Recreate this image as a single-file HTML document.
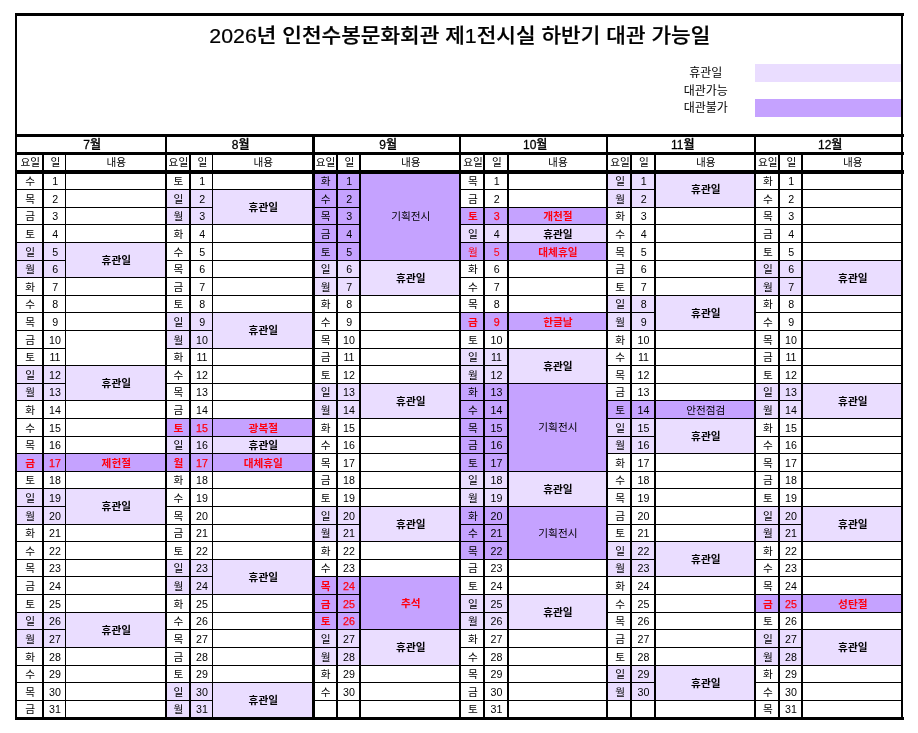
<!DOCTYPE html>
<html lang="ko"><head><meta charset="utf-8"><title>2026년 인천수봉문화회관 제1전시실 하반기 대관 가능일</title>
<style>
html,body{margin:0;padding:0;background:#fff;}
body{width:918px;height:733px;overflow:hidden;position:relative;font-family:"Liberation Sans","Noto Sans CJK KR",sans-serif;color:#000;}
.r{position:absolute;}
.t{position:absolute;display:flex;align-items:center;justify-content:center;white-space:nowrap;font-size:10.667px;line-height:1;}
.title{font-size:21.333px;font-weight:500;-webkit-text-stroke:0.25px #000;transform:scaleY(0.94);transform-origin:50% 72%;}
.mon{font-size:12px;font-weight:500;-webkit-text-stroke:0.3px #000;}
.hd{}
.leg{font-size:12px;}
.d{}
.dr{font-weight:700;color:#FF0010;}
.rr{color:#FF0010;}
.nr{color:#FF0010;-webkit-text-stroke:0.25px #FF0010;}
.cb{font-weight:700;}
.cr{font-weight:700;color:#FF0010;}
.cn{}
</style></head>
<body>
<div class="r" style="left:755px;top:64px;width:146px;height:18px;background:#EADDFF"></div>
<div class="r" style="left:755px;top:99px;width:146px;height:18px;background:#C5A2FF"></div>
<div class="r" style="left:66px;top:243px;width:99px;height:34px;background:#EADDFF"></div>
<div class="r" style="left:66px;top:366px;width:99px;height:34px;background:#EADDFF"></div>
<div class="r" style="left:66px;top:454px;width:99px;height:17px;background:#C5A2FF"></div>
<div class="r" style="left:66px;top:489px;width:99px;height:35px;background:#EADDFF"></div>
<div class="r" style="left:66px;top:613px;width:99px;height:34px;background:#EADDFF"></div>
<div class="r" style="left:17px;top:243px;width:25px;height:17px;background:#EADDFF"></div>
<div class="r" style="left:44px;top:243px;width:21px;height:17px;background:#EADDFF"></div>
<div class="r" style="left:17px;top:261px;width:25px;height:16px;background:#EADDFF"></div>
<div class="r" style="left:44px;top:261px;width:21px;height:16px;background:#EADDFF"></div>
<div class="r" style="left:17px;top:366px;width:25px;height:17px;background:#EADDFF"></div>
<div class="r" style="left:44px;top:366px;width:21px;height:17px;background:#EADDFF"></div>
<div class="r" style="left:17px;top:384px;width:25px;height:16px;background:#EADDFF"></div>
<div class="r" style="left:44px;top:384px;width:21px;height:16px;background:#EADDFF"></div>
<div class="r" style="left:17px;top:454px;width:25px;height:17px;background:#C5A2FF"></div>
<div class="r" style="left:44px;top:454px;width:21px;height:17px;background:#C5A2FF"></div>
<div class="r" style="left:17px;top:489px;width:25px;height:17px;background:#EADDFF"></div>
<div class="r" style="left:44px;top:489px;width:21px;height:17px;background:#EADDFF"></div>
<div class="r" style="left:17px;top:507px;width:25px;height:17px;background:#EADDFF"></div>
<div class="r" style="left:44px;top:507px;width:21px;height:17px;background:#EADDFF"></div>
<div class="r" style="left:17px;top:613px;width:25px;height:16px;background:#EADDFF"></div>
<div class="r" style="left:44px;top:613px;width:21px;height:16px;background:#EADDFF"></div>
<div class="r" style="left:17px;top:630px;width:25px;height:17px;background:#EADDFF"></div>
<div class="r" style="left:44px;top:630px;width:21px;height:17px;background:#EADDFF"></div>
<div class="r" style="left:213px;top:190px;width:99px;height:34px;background:#EADDFF"></div>
<div class="r" style="left:213px;top:313px;width:99px;height:35px;background:#EADDFF"></div>
<div class="r" style="left:213px;top:419px;width:99px;height:17px;background:#C5A2FF"></div>
<div class="r" style="left:213px;top:437px;width:99px;height:16px;background:#EADDFF"></div>
<div class="r" style="left:213px;top:454px;width:99px;height:17px;background:#C5A2FF"></div>
<div class="r" style="left:213px;top:560px;width:99px;height:34px;background:#EADDFF"></div>
<div class="r" style="left:213px;top:683px;width:99px;height:34px;background:#EADDFF"></div>
<div class="r" style="left:167px;top:190px;width:22px;height:17px;background:#EADDFF"></div>
<div class="r" style="left:191px;top:190px;width:21px;height:17px;background:#EADDFF"></div>
<div class="r" style="left:167px;top:208px;width:22px;height:16px;background:#EADDFF"></div>
<div class="r" style="left:191px;top:208px;width:21px;height:16px;background:#EADDFF"></div>
<div class="r" style="left:167px;top:313px;width:22px;height:17px;background:#EADDFF"></div>
<div class="r" style="left:191px;top:313px;width:21px;height:17px;background:#EADDFF"></div>
<div class="r" style="left:167px;top:331px;width:22px;height:17px;background:#EADDFF"></div>
<div class="r" style="left:191px;top:331px;width:21px;height:17px;background:#EADDFF"></div>
<div class="r" style="left:167px;top:419px;width:22px;height:17px;background:#C5A2FF"></div>
<div class="r" style="left:191px;top:419px;width:21px;height:17px;background:#C5A2FF"></div>
<div class="r" style="left:167px;top:437px;width:22px;height:16px;background:#EADDFF"></div>
<div class="r" style="left:191px;top:437px;width:21px;height:16px;background:#EADDFF"></div>
<div class="r" style="left:167px;top:454px;width:22px;height:17px;background:#C5A2FF"></div>
<div class="r" style="left:191px;top:454px;width:21px;height:17px;background:#C5A2FF"></div>
<div class="r" style="left:167px;top:560px;width:22px;height:16px;background:#EADDFF"></div>
<div class="r" style="left:191px;top:560px;width:21px;height:16px;background:#EADDFF"></div>
<div class="r" style="left:167px;top:577px;width:22px;height:17px;background:#EADDFF"></div>
<div class="r" style="left:191px;top:577px;width:21px;height:17px;background:#EADDFF"></div>
<div class="r" style="left:167px;top:683px;width:22px;height:17px;background:#EADDFF"></div>
<div class="r" style="left:191px;top:683px;width:21px;height:17px;background:#EADDFF"></div>
<div class="r" style="left:167px;top:701px;width:22px;height:16px;background:#EADDFF"></div>
<div class="r" style="left:191px;top:701px;width:21px;height:16px;background:#EADDFF"></div>
<div class="r" style="left:361px;top:174px;width:98px;height:86px;background:#C5A2FF"></div>
<div class="r" style="left:361px;top:261px;width:98px;height:34px;background:#EADDFF"></div>
<div class="r" style="left:361px;top:384px;width:98px;height:34px;background:#EADDFF"></div>
<div class="r" style="left:361px;top:507px;width:98px;height:34px;background:#EADDFF"></div>
<div class="r" style="left:361px;top:577px;width:98px;height:52px;background:#C5A2FF"></div>
<div class="r" style="left:361px;top:630px;width:98px;height:35px;background:#EADDFF"></div>
<div class="r" style="left:315px;top:174px;width:21px;height:15px;background:#C5A2FF"></div>
<div class="r" style="left:338px;top:174px;width:21px;height:15px;background:#C5A2FF"></div>
<div class="r" style="left:315px;top:190px;width:21px;height:17px;background:#C5A2FF"></div>
<div class="r" style="left:338px;top:190px;width:21px;height:17px;background:#C5A2FF"></div>
<div class="r" style="left:315px;top:208px;width:21px;height:16px;background:#C5A2FF"></div>
<div class="r" style="left:338px;top:208px;width:21px;height:16px;background:#C5A2FF"></div>
<div class="r" style="left:315px;top:225px;width:21px;height:17px;background:#C5A2FF"></div>
<div class="r" style="left:338px;top:225px;width:21px;height:17px;background:#C5A2FF"></div>
<div class="r" style="left:315px;top:243px;width:21px;height:17px;background:#C5A2FF"></div>
<div class="r" style="left:338px;top:243px;width:21px;height:17px;background:#C5A2FF"></div>
<div class="r" style="left:315px;top:261px;width:21px;height:16px;background:#EADDFF"></div>
<div class="r" style="left:338px;top:261px;width:21px;height:16px;background:#EADDFF"></div>
<div class="r" style="left:315px;top:278px;width:21px;height:17px;background:#EADDFF"></div>
<div class="r" style="left:338px;top:278px;width:21px;height:17px;background:#EADDFF"></div>
<div class="r" style="left:315px;top:384px;width:21px;height:16px;background:#EADDFF"></div>
<div class="r" style="left:338px;top:384px;width:21px;height:16px;background:#EADDFF"></div>
<div class="r" style="left:315px;top:401px;width:21px;height:17px;background:#EADDFF"></div>
<div class="r" style="left:338px;top:401px;width:21px;height:17px;background:#EADDFF"></div>
<div class="r" style="left:315px;top:507px;width:21px;height:17px;background:#EADDFF"></div>
<div class="r" style="left:338px;top:507px;width:21px;height:17px;background:#EADDFF"></div>
<div class="r" style="left:315px;top:525px;width:21px;height:16px;background:#EADDFF"></div>
<div class="r" style="left:338px;top:525px;width:21px;height:16px;background:#EADDFF"></div>
<div class="r" style="left:315px;top:577px;width:21px;height:17px;background:#C5A2FF"></div>
<div class="r" style="left:338px;top:577px;width:21px;height:17px;background:#C5A2FF"></div>
<div class="r" style="left:315px;top:595px;width:21px;height:17px;background:#C5A2FF"></div>
<div class="r" style="left:338px;top:595px;width:21px;height:17px;background:#C5A2FF"></div>
<div class="r" style="left:315px;top:613px;width:21px;height:16px;background:#C5A2FF"></div>
<div class="r" style="left:338px;top:613px;width:21px;height:16px;background:#C5A2FF"></div>
<div class="r" style="left:315px;top:630px;width:21px;height:17px;background:#EADDFF"></div>
<div class="r" style="left:338px;top:630px;width:21px;height:17px;background:#EADDFF"></div>
<div class="r" style="left:315px;top:648px;width:21px;height:17px;background:#EADDFF"></div>
<div class="r" style="left:338px;top:648px;width:21px;height:17px;background:#EADDFF"></div>
<div class="r" style="left:509px;top:208px;width:97px;height:16px;background:#C5A2FF"></div>
<div class="r" style="left:509px;top:225px;width:97px;height:17px;background:#EADDFF"></div>
<div class="r" style="left:509px;top:243px;width:97px;height:17px;background:#C5A2FF"></div>
<div class="r" style="left:509px;top:313px;width:97px;height:17px;background:#C5A2FF"></div>
<div class="r" style="left:509px;top:349px;width:97px;height:34px;background:#EADDFF"></div>
<div class="r" style="left:509px;top:384px;width:97px;height:87px;background:#C5A2FF"></div>
<div class="r" style="left:509px;top:472px;width:97px;height:34px;background:#EADDFF"></div>
<div class="r" style="left:509px;top:507px;width:97px;height:52px;background:#C5A2FF"></div>
<div class="r" style="left:509px;top:595px;width:97px;height:34px;background:#EADDFF"></div>
<div class="r" style="left:461px;top:208px;width:22px;height:16px;background:#C5A2FF"></div>
<div class="r" style="left:485px;top:208px;width:22px;height:16px;background:#C5A2FF"></div>
<div class="r" style="left:461px;top:225px;width:22px;height:17px;background:#EADDFF"></div>
<div class="r" style="left:485px;top:225px;width:22px;height:17px;background:#EADDFF"></div>
<div class="r" style="left:461px;top:243px;width:22px;height:17px;background:#C5A2FF"></div>
<div class="r" style="left:485px;top:243px;width:22px;height:17px;background:#C5A2FF"></div>
<div class="r" style="left:461px;top:313px;width:22px;height:17px;background:#C5A2FF"></div>
<div class="r" style="left:485px;top:313px;width:22px;height:17px;background:#C5A2FF"></div>
<div class="r" style="left:461px;top:349px;width:22px;height:16px;background:#EADDFF"></div>
<div class="r" style="left:485px;top:349px;width:22px;height:16px;background:#EADDFF"></div>
<div class="r" style="left:461px;top:366px;width:22px;height:17px;background:#EADDFF"></div>
<div class="r" style="left:485px;top:366px;width:22px;height:17px;background:#EADDFF"></div>
<div class="r" style="left:461px;top:384px;width:22px;height:16px;background:#C5A2FF"></div>
<div class="r" style="left:485px;top:384px;width:22px;height:16px;background:#C5A2FF"></div>
<div class="r" style="left:461px;top:401px;width:22px;height:17px;background:#C5A2FF"></div>
<div class="r" style="left:485px;top:401px;width:22px;height:17px;background:#C5A2FF"></div>
<div class="r" style="left:461px;top:419px;width:22px;height:17px;background:#C5A2FF"></div>
<div class="r" style="left:485px;top:419px;width:22px;height:17px;background:#C5A2FF"></div>
<div class="r" style="left:461px;top:437px;width:22px;height:16px;background:#C5A2FF"></div>
<div class="r" style="left:485px;top:437px;width:22px;height:16px;background:#C5A2FF"></div>
<div class="r" style="left:461px;top:454px;width:22px;height:17px;background:#C5A2FF"></div>
<div class="r" style="left:485px;top:454px;width:22px;height:17px;background:#C5A2FF"></div>
<div class="r" style="left:461px;top:472px;width:22px;height:16px;background:#EADDFF"></div>
<div class="r" style="left:485px;top:472px;width:22px;height:16px;background:#EADDFF"></div>
<div class="r" style="left:461px;top:489px;width:22px;height:17px;background:#EADDFF"></div>
<div class="r" style="left:485px;top:489px;width:22px;height:17px;background:#EADDFF"></div>
<div class="r" style="left:461px;top:507px;width:22px;height:17px;background:#C5A2FF"></div>
<div class="r" style="left:485px;top:507px;width:22px;height:17px;background:#C5A2FF"></div>
<div class="r" style="left:461px;top:525px;width:22px;height:16px;background:#C5A2FF"></div>
<div class="r" style="left:485px;top:525px;width:22px;height:16px;background:#C5A2FF"></div>
<div class="r" style="left:461px;top:542px;width:22px;height:17px;background:#C5A2FF"></div>
<div class="r" style="left:485px;top:542px;width:22px;height:17px;background:#C5A2FF"></div>
<div class="r" style="left:461px;top:595px;width:22px;height:17px;background:#EADDFF"></div>
<div class="r" style="left:485px;top:595px;width:22px;height:17px;background:#EADDFF"></div>
<div class="r" style="left:461px;top:613px;width:22px;height:16px;background:#EADDFF"></div>
<div class="r" style="left:485px;top:613px;width:22px;height:16px;background:#EADDFF"></div>
<div class="r" style="left:656px;top:174px;width:98px;height:33px;background:#EADDFF"></div>
<div class="r" style="left:656px;top:296px;width:98px;height:34px;background:#EADDFF"></div>
<div class="r" style="left:656px;top:401px;width:98px;height:17px;background:#C5A2FF"></div>
<div class="r" style="left:656px;top:419px;width:98px;height:34px;background:#EADDFF"></div>
<div class="r" style="left:656px;top:542px;width:98px;height:34px;background:#EADDFF"></div>
<div class="r" style="left:656px;top:666px;width:98px;height:34px;background:#EADDFF"></div>
<div class="r" style="left:608px;top:174px;width:22px;height:15px;background:#EADDFF"></div>
<div class="r" style="left:632px;top:174px;width:22px;height:15px;background:#EADDFF"></div>
<div class="r" style="left:608px;top:190px;width:22px;height:17px;background:#EADDFF"></div>
<div class="r" style="left:632px;top:190px;width:22px;height:17px;background:#EADDFF"></div>
<div class="r" style="left:608px;top:296px;width:22px;height:16px;background:#EADDFF"></div>
<div class="r" style="left:632px;top:296px;width:22px;height:16px;background:#EADDFF"></div>
<div class="r" style="left:608px;top:313px;width:22px;height:17px;background:#EADDFF"></div>
<div class="r" style="left:632px;top:313px;width:22px;height:17px;background:#EADDFF"></div>
<div class="r" style="left:608px;top:401px;width:22px;height:17px;background:#C5A2FF"></div>
<div class="r" style="left:632px;top:401px;width:22px;height:17px;background:#C5A2FF"></div>
<div class="r" style="left:608px;top:419px;width:22px;height:17px;background:#EADDFF"></div>
<div class="r" style="left:632px;top:419px;width:22px;height:17px;background:#EADDFF"></div>
<div class="r" style="left:608px;top:437px;width:22px;height:16px;background:#EADDFF"></div>
<div class="r" style="left:632px;top:437px;width:22px;height:16px;background:#EADDFF"></div>
<div class="r" style="left:608px;top:542px;width:22px;height:17px;background:#EADDFF"></div>
<div class="r" style="left:632px;top:542px;width:22px;height:17px;background:#EADDFF"></div>
<div class="r" style="left:608px;top:560px;width:22px;height:16px;background:#EADDFF"></div>
<div class="r" style="left:632px;top:560px;width:22px;height:16px;background:#EADDFF"></div>
<div class="r" style="left:608px;top:666px;width:22px;height:16px;background:#EADDFF"></div>
<div class="r" style="left:632px;top:666px;width:22px;height:16px;background:#EADDFF"></div>
<div class="r" style="left:608px;top:683px;width:22px;height:17px;background:#EADDFF"></div>
<div class="r" style="left:632px;top:683px;width:22px;height:17px;background:#EADDFF"></div>
<div class="r" style="left:803px;top:261px;width:98px;height:34px;background:#EADDFF"></div>
<div class="r" style="left:803px;top:384px;width:98px;height:34px;background:#EADDFF"></div>
<div class="r" style="left:803px;top:507px;width:98px;height:34px;background:#EADDFF"></div>
<div class="r" style="left:803px;top:595px;width:98px;height:17px;background:#C5A2FF"></div>
<div class="r" style="left:803px;top:630px;width:98px;height:35px;background:#EADDFF"></div>
<div class="r" style="left:756px;top:261px;width:22px;height:16px;background:#EADDFF"></div>
<div class="r" style="left:780px;top:261px;width:21px;height:16px;background:#EADDFF"></div>
<div class="r" style="left:756px;top:278px;width:22px;height:17px;background:#EADDFF"></div>
<div class="r" style="left:780px;top:278px;width:21px;height:17px;background:#EADDFF"></div>
<div class="r" style="left:756px;top:384px;width:22px;height:16px;background:#EADDFF"></div>
<div class="r" style="left:780px;top:384px;width:21px;height:16px;background:#EADDFF"></div>
<div class="r" style="left:756px;top:401px;width:22px;height:17px;background:#EADDFF"></div>
<div class="r" style="left:780px;top:401px;width:21px;height:17px;background:#EADDFF"></div>
<div class="r" style="left:756px;top:507px;width:22px;height:17px;background:#EADDFF"></div>
<div class="r" style="left:780px;top:507px;width:21px;height:17px;background:#EADDFF"></div>
<div class="r" style="left:756px;top:525px;width:22px;height:16px;background:#EADDFF"></div>
<div class="r" style="left:780px;top:525px;width:21px;height:16px;background:#EADDFF"></div>
<div class="r" style="left:756px;top:595px;width:22px;height:17px;background:#C5A2FF"></div>
<div class="r" style="left:780px;top:595px;width:21px;height:17px;background:#C5A2FF"></div>
<div class="r" style="left:756px;top:630px;width:22px;height:17px;background:#EADDFF"></div>
<div class="r" style="left:780px;top:630px;width:21px;height:17px;background:#EADDFF"></div>
<div class="r" style="left:756px;top:648px;width:22px;height:17px;background:#EADDFF"></div>
<div class="r" style="left:780px;top:648px;width:21px;height:17px;background:#EADDFF"></div>
<div class="r" style="left:15px;top:13px;width:889px;height:3px;background:#000"></div>
<div class="r" style="left:15px;top:134px;width:889px;height:3px;background:#000"></div>
<div class="r" style="left:15px;top:152px;width:889px;height:3px;background:#000"></div>
<div class="r" style="left:15px;top:170px;width:889px;height:4px;background:#000"></div>
<div class="r" style="left:15px;top:717px;width:889px;height:3px;background:#000"></div>
<div class="r" style="left:15px;top:13px;width:2px;height:707px;background:#000"></div>
<div class="r" style="left:901px;top:13px;width:2px;height:707px;background:#000"></div>
<div class="r" style="left:42px;top:155px;width:2px;height:564px;background:#000"></div>
<div class="r" style="left:65px;top:155px;width:1px;height:564px;background:#000"></div>
<div class="r" style="left:17px;top:189px;width:148px;height:1px;background:#000"></div>
<div class="r" style="left:17px;top:207px;width:148px;height:1px;background:#000"></div>
<div class="r" style="left:17px;top:224px;width:148px;height:1px;background:#000"></div>
<div class="r" style="left:17px;top:242px;width:148px;height:1px;background:#000"></div>
<div class="r" style="left:17px;top:260px;width:48px;height:1px;background:#000"></div>
<div class="r" style="left:17px;top:277px;width:148px;height:1px;background:#000"></div>
<div class="r" style="left:17px;top:295px;width:148px;height:1px;background:#000"></div>
<div class="r" style="left:17px;top:312px;width:148px;height:1px;background:#000"></div>
<div class="r" style="left:17px;top:330px;width:148px;height:1px;background:#000"></div>
<div class="r" style="left:17px;top:348px;width:48px;height:1px;background:#000"></div>
<div class="r" style="left:17px;top:365px;width:148px;height:1px;background:#000"></div>
<div class="r" style="left:17px;top:383px;width:48px;height:1px;background:#000"></div>
<div class="r" style="left:17px;top:400px;width:148px;height:1px;background:#000"></div>
<div class="r" style="left:17px;top:418px;width:148px;height:1px;background:#000"></div>
<div class="r" style="left:17px;top:436px;width:148px;height:1px;background:#000"></div>
<div class="r" style="left:17px;top:453px;width:148px;height:1px;background:#000"></div>
<div class="r" style="left:17px;top:471px;width:148px;height:1px;background:#000"></div>
<div class="r" style="left:17px;top:488px;width:148px;height:1px;background:#000"></div>
<div class="r" style="left:17px;top:506px;width:48px;height:1px;background:#000"></div>
<div class="r" style="left:17px;top:524px;width:148px;height:1px;background:#000"></div>
<div class="r" style="left:17px;top:541px;width:148px;height:1px;background:#000"></div>
<div class="r" style="left:17px;top:559px;width:148px;height:1px;background:#000"></div>
<div class="r" style="left:17px;top:576px;width:148px;height:1px;background:#000"></div>
<div class="r" style="left:17px;top:594px;width:148px;height:1px;background:#000"></div>
<div class="r" style="left:17px;top:612px;width:148px;height:1px;background:#000"></div>
<div class="r" style="left:17px;top:629px;width:48px;height:1px;background:#000"></div>
<div class="r" style="left:17px;top:647px;width:148px;height:1px;background:#000"></div>
<div class="r" style="left:17px;top:665px;width:148px;height:1px;background:#000"></div>
<div class="r" style="left:17px;top:682px;width:148px;height:1px;background:#000"></div>
<div class="r" style="left:17px;top:700px;width:148px;height:1px;background:#000"></div>
<div class="r" style="left:165px;top:134px;width:2px;height:585px;background:#000"></div>
<div class="r" style="left:189px;top:155px;width:2px;height:564px;background:#000"></div>
<div class="r" style="left:212px;top:155px;width:1px;height:564px;background:#000"></div>
<div class="r" style="left:167px;top:189px;width:145px;height:1px;background:#000"></div>
<div class="r" style="left:167px;top:207px;width:45px;height:1px;background:#000"></div>
<div class="r" style="left:167px;top:224px;width:145px;height:1px;background:#000"></div>
<div class="r" style="left:167px;top:242px;width:145px;height:1px;background:#000"></div>
<div class="r" style="left:167px;top:260px;width:145px;height:1px;background:#000"></div>
<div class="r" style="left:167px;top:277px;width:145px;height:1px;background:#000"></div>
<div class="r" style="left:167px;top:295px;width:145px;height:1px;background:#000"></div>
<div class="r" style="left:167px;top:312px;width:145px;height:1px;background:#000"></div>
<div class="r" style="left:167px;top:330px;width:45px;height:1px;background:#000"></div>
<div class="r" style="left:167px;top:348px;width:145px;height:1px;background:#000"></div>
<div class="r" style="left:167px;top:365px;width:145px;height:1px;background:#000"></div>
<div class="r" style="left:167px;top:383px;width:145px;height:1px;background:#000"></div>
<div class="r" style="left:167px;top:400px;width:145px;height:1px;background:#000"></div>
<div class="r" style="left:167px;top:418px;width:145px;height:1px;background:#000"></div>
<div class="r" style="left:167px;top:436px;width:145px;height:1px;background:#000"></div>
<div class="r" style="left:167px;top:453px;width:145px;height:1px;background:#000"></div>
<div class="r" style="left:167px;top:471px;width:145px;height:1px;background:#000"></div>
<div class="r" style="left:167px;top:488px;width:145px;height:1px;background:#000"></div>
<div class="r" style="left:167px;top:506px;width:145px;height:1px;background:#000"></div>
<div class="r" style="left:167px;top:524px;width:145px;height:1px;background:#000"></div>
<div class="r" style="left:167px;top:541px;width:145px;height:1px;background:#000"></div>
<div class="r" style="left:167px;top:559px;width:145px;height:1px;background:#000"></div>
<div class="r" style="left:167px;top:576px;width:45px;height:1px;background:#000"></div>
<div class="r" style="left:167px;top:594px;width:145px;height:1px;background:#000"></div>
<div class="r" style="left:167px;top:612px;width:145px;height:1px;background:#000"></div>
<div class="r" style="left:167px;top:629px;width:145px;height:1px;background:#000"></div>
<div class="r" style="left:167px;top:647px;width:145px;height:1px;background:#000"></div>
<div class="r" style="left:167px;top:665px;width:145px;height:1px;background:#000"></div>
<div class="r" style="left:167px;top:682px;width:145px;height:1px;background:#000"></div>
<div class="r" style="left:167px;top:700px;width:45px;height:1px;background:#000"></div>
<div class="r" style="left:312px;top:134px;width:3px;height:585px;background:#000"></div>
<div class="r" style="left:336px;top:155px;width:2px;height:564px;background:#000"></div>
<div class="r" style="left:359px;top:155px;width:2px;height:564px;background:#000"></div>
<div class="r" style="left:315px;top:189px;width:44px;height:1px;background:#000"></div>
<div class="r" style="left:315px;top:207px;width:44px;height:1px;background:#000"></div>
<div class="r" style="left:315px;top:224px;width:44px;height:1px;background:#000"></div>
<div class="r" style="left:315px;top:242px;width:44px;height:1px;background:#000"></div>
<div class="r" style="left:315px;top:260px;width:144px;height:1px;background:#000"></div>
<div class="r" style="left:315px;top:277px;width:44px;height:1px;background:#000"></div>
<div class="r" style="left:315px;top:295px;width:144px;height:1px;background:#000"></div>
<div class="r" style="left:315px;top:312px;width:144px;height:1px;background:#000"></div>
<div class="r" style="left:315px;top:330px;width:144px;height:1px;background:#000"></div>
<div class="r" style="left:315px;top:348px;width:144px;height:1px;background:#000"></div>
<div class="r" style="left:315px;top:365px;width:144px;height:1px;background:#000"></div>
<div class="r" style="left:315px;top:383px;width:144px;height:1px;background:#000"></div>
<div class="r" style="left:315px;top:400px;width:44px;height:1px;background:#000"></div>
<div class="r" style="left:315px;top:418px;width:144px;height:1px;background:#000"></div>
<div class="r" style="left:315px;top:436px;width:144px;height:1px;background:#000"></div>
<div class="r" style="left:315px;top:453px;width:144px;height:1px;background:#000"></div>
<div class="r" style="left:315px;top:471px;width:144px;height:1px;background:#000"></div>
<div class="r" style="left:315px;top:488px;width:144px;height:1px;background:#000"></div>
<div class="r" style="left:315px;top:506px;width:144px;height:1px;background:#000"></div>
<div class="r" style="left:315px;top:524px;width:44px;height:1px;background:#000"></div>
<div class="r" style="left:315px;top:541px;width:144px;height:1px;background:#000"></div>
<div class="r" style="left:315px;top:559px;width:144px;height:1px;background:#000"></div>
<div class="r" style="left:315px;top:576px;width:144px;height:1px;background:#000"></div>
<div class="r" style="left:315px;top:594px;width:44px;height:1px;background:#000"></div>
<div class="r" style="left:315px;top:612px;width:44px;height:1px;background:#000"></div>
<div class="r" style="left:315px;top:629px;width:144px;height:1px;background:#000"></div>
<div class="r" style="left:315px;top:647px;width:44px;height:1px;background:#000"></div>
<div class="r" style="left:315px;top:665px;width:144px;height:1px;background:#000"></div>
<div class="r" style="left:315px;top:682px;width:144px;height:1px;background:#000"></div>
<div class="r" style="left:315px;top:700px;width:144px;height:1px;background:#000"></div>
<div class="r" style="left:459px;top:134px;width:2px;height:585px;background:#000"></div>
<div class="r" style="left:483px;top:155px;width:2px;height:564px;background:#000"></div>
<div class="r" style="left:507px;top:155px;width:2px;height:564px;background:#000"></div>
<div class="r" style="left:461px;top:189px;width:145px;height:1px;background:#000"></div>
<div class="r" style="left:461px;top:207px;width:145px;height:1px;background:#000"></div>
<div class="r" style="left:461px;top:224px;width:145px;height:1px;background:#000"></div>
<div class="r" style="left:461px;top:242px;width:145px;height:1px;background:#000"></div>
<div class="r" style="left:461px;top:260px;width:145px;height:1px;background:#000"></div>
<div class="r" style="left:461px;top:277px;width:145px;height:1px;background:#000"></div>
<div class="r" style="left:461px;top:295px;width:145px;height:1px;background:#000"></div>
<div class="r" style="left:461px;top:312px;width:145px;height:1px;background:#000"></div>
<div class="r" style="left:461px;top:330px;width:145px;height:1px;background:#000"></div>
<div class="r" style="left:461px;top:348px;width:145px;height:1px;background:#000"></div>
<div class="r" style="left:461px;top:365px;width:46px;height:1px;background:#000"></div>
<div class="r" style="left:461px;top:383px;width:145px;height:1px;background:#000"></div>
<div class="r" style="left:461px;top:400px;width:46px;height:1px;background:#000"></div>
<div class="r" style="left:461px;top:418px;width:46px;height:1px;background:#000"></div>
<div class="r" style="left:461px;top:436px;width:46px;height:1px;background:#000"></div>
<div class="r" style="left:461px;top:453px;width:46px;height:1px;background:#000"></div>
<div class="r" style="left:461px;top:471px;width:145px;height:1px;background:#000"></div>
<div class="r" style="left:461px;top:488px;width:46px;height:1px;background:#000"></div>
<div class="r" style="left:461px;top:506px;width:145px;height:1px;background:#000"></div>
<div class="r" style="left:461px;top:524px;width:46px;height:1px;background:#000"></div>
<div class="r" style="left:461px;top:541px;width:46px;height:1px;background:#000"></div>
<div class="r" style="left:461px;top:559px;width:145px;height:1px;background:#000"></div>
<div class="r" style="left:461px;top:576px;width:145px;height:1px;background:#000"></div>
<div class="r" style="left:461px;top:594px;width:145px;height:1px;background:#000"></div>
<div class="r" style="left:461px;top:612px;width:46px;height:1px;background:#000"></div>
<div class="r" style="left:461px;top:629px;width:145px;height:1px;background:#000"></div>
<div class="r" style="left:461px;top:647px;width:145px;height:1px;background:#000"></div>
<div class="r" style="left:461px;top:665px;width:145px;height:1px;background:#000"></div>
<div class="r" style="left:461px;top:682px;width:145px;height:1px;background:#000"></div>
<div class="r" style="left:461px;top:700px;width:145px;height:1px;background:#000"></div>
<div class="r" style="left:606px;top:134px;width:2px;height:585px;background:#000"></div>
<div class="r" style="left:630px;top:155px;width:2px;height:564px;background:#000"></div>
<div class="r" style="left:654px;top:155px;width:2px;height:564px;background:#000"></div>
<div class="r" style="left:608px;top:189px;width:46px;height:1px;background:#000"></div>
<div class="r" style="left:608px;top:207px;width:146px;height:1px;background:#000"></div>
<div class="r" style="left:608px;top:224px;width:146px;height:1px;background:#000"></div>
<div class="r" style="left:608px;top:242px;width:146px;height:1px;background:#000"></div>
<div class="r" style="left:608px;top:260px;width:146px;height:1px;background:#000"></div>
<div class="r" style="left:608px;top:277px;width:146px;height:1px;background:#000"></div>
<div class="r" style="left:608px;top:295px;width:146px;height:1px;background:#000"></div>
<div class="r" style="left:608px;top:312px;width:46px;height:1px;background:#000"></div>
<div class="r" style="left:608px;top:330px;width:146px;height:1px;background:#000"></div>
<div class="r" style="left:608px;top:348px;width:146px;height:1px;background:#000"></div>
<div class="r" style="left:608px;top:365px;width:146px;height:1px;background:#000"></div>
<div class="r" style="left:608px;top:383px;width:146px;height:1px;background:#000"></div>
<div class="r" style="left:608px;top:400px;width:146px;height:1px;background:#000"></div>
<div class="r" style="left:608px;top:418px;width:146px;height:1px;background:#000"></div>
<div class="r" style="left:608px;top:436px;width:46px;height:1px;background:#000"></div>
<div class="r" style="left:608px;top:453px;width:146px;height:1px;background:#000"></div>
<div class="r" style="left:608px;top:471px;width:146px;height:1px;background:#000"></div>
<div class="r" style="left:608px;top:488px;width:146px;height:1px;background:#000"></div>
<div class="r" style="left:608px;top:506px;width:146px;height:1px;background:#000"></div>
<div class="r" style="left:608px;top:524px;width:146px;height:1px;background:#000"></div>
<div class="r" style="left:608px;top:541px;width:146px;height:1px;background:#000"></div>
<div class="r" style="left:608px;top:559px;width:46px;height:1px;background:#000"></div>
<div class="r" style="left:608px;top:576px;width:146px;height:1px;background:#000"></div>
<div class="r" style="left:608px;top:594px;width:146px;height:1px;background:#000"></div>
<div class="r" style="left:608px;top:612px;width:146px;height:1px;background:#000"></div>
<div class="r" style="left:608px;top:629px;width:146px;height:1px;background:#000"></div>
<div class="r" style="left:608px;top:647px;width:146px;height:1px;background:#000"></div>
<div class="r" style="left:608px;top:665px;width:146px;height:1px;background:#000"></div>
<div class="r" style="left:608px;top:682px;width:46px;height:1px;background:#000"></div>
<div class="r" style="left:608px;top:700px;width:146px;height:1px;background:#000"></div>
<div class="r" style="left:754px;top:134px;width:2px;height:585px;background:#000"></div>
<div class="r" style="left:778px;top:155px;width:2px;height:564px;background:#000"></div>
<div class="r" style="left:801px;top:155px;width:2px;height:564px;background:#000"></div>
<div class="r" style="left:756px;top:189px;width:145px;height:1px;background:#000"></div>
<div class="r" style="left:756px;top:207px;width:145px;height:1px;background:#000"></div>
<div class="r" style="left:756px;top:224px;width:145px;height:1px;background:#000"></div>
<div class="r" style="left:756px;top:242px;width:145px;height:1px;background:#000"></div>
<div class="r" style="left:756px;top:260px;width:145px;height:1px;background:#000"></div>
<div class="r" style="left:756px;top:277px;width:45px;height:1px;background:#000"></div>
<div class="r" style="left:756px;top:295px;width:145px;height:1px;background:#000"></div>
<div class="r" style="left:756px;top:312px;width:145px;height:1px;background:#000"></div>
<div class="r" style="left:756px;top:330px;width:145px;height:1px;background:#000"></div>
<div class="r" style="left:756px;top:348px;width:145px;height:1px;background:#000"></div>
<div class="r" style="left:756px;top:365px;width:145px;height:1px;background:#000"></div>
<div class="r" style="left:756px;top:383px;width:145px;height:1px;background:#000"></div>
<div class="r" style="left:756px;top:400px;width:45px;height:1px;background:#000"></div>
<div class="r" style="left:756px;top:418px;width:145px;height:1px;background:#000"></div>
<div class="r" style="left:756px;top:436px;width:145px;height:1px;background:#000"></div>
<div class="r" style="left:756px;top:453px;width:145px;height:1px;background:#000"></div>
<div class="r" style="left:756px;top:471px;width:145px;height:1px;background:#000"></div>
<div class="r" style="left:756px;top:488px;width:145px;height:1px;background:#000"></div>
<div class="r" style="left:756px;top:506px;width:145px;height:1px;background:#000"></div>
<div class="r" style="left:756px;top:524px;width:45px;height:1px;background:#000"></div>
<div class="r" style="left:756px;top:541px;width:145px;height:1px;background:#000"></div>
<div class="r" style="left:756px;top:559px;width:145px;height:1px;background:#000"></div>
<div class="r" style="left:756px;top:576px;width:145px;height:1px;background:#000"></div>
<div class="r" style="left:756px;top:594px;width:145px;height:1px;background:#000"></div>
<div class="r" style="left:756px;top:612px;width:145px;height:1px;background:#000"></div>
<div class="r" style="left:756px;top:629px;width:145px;height:1px;background:#000"></div>
<div class="r" style="left:756px;top:647px;width:45px;height:1px;background:#000"></div>
<div class="r" style="left:756px;top:665px;width:145px;height:1px;background:#000"></div>
<div class="r" style="left:756px;top:682px;width:145px;height:1px;background:#000"></div>
<div class="r" style="left:756px;top:700px;width:145px;height:1px;background:#000"></div>
<div class="t title" style="left:15.3px;top:17px;width:889px;height:40px">2026년 인천수봉문화회관 제1전시실 하반기 대관 가능일</div>
<div class="t leg" style="left:656.8px;top:64px;width:98px;height:18px">휴관일</div>
<div class="t leg" style="left:656.8px;top:82px;width:98px;height:17px">대관가능</div>
<div class="t leg" style="left:656.8px;top:99px;width:98px;height:18px">대관불가</div>
<div class="t mon" style="left:18.2px;top:137px;width:148px;height:15px">7월</div>
<div class="t hd" style="left:17.7px;top:155px;width:25px;height:15px">요일</div>
<div class="t hd" style="left:44.8px;top:155px;width:21px;height:15px">일</div>
<div class="t hd" style="left:66.8px;top:155px;width:99px;height:15px">내용</div>
<div class="t cb" style="left:66.8px;top:243px;width:99px;height:34px">휴관일</div>
<div class="t cb" style="left:66.8px;top:366px;width:99px;height:34px">휴관일</div>
<div class="t cr" style="left:66.8px;top:455px;width:99px;height:16px">제헌절</div>
<div class="t cb" style="left:66.8px;top:489px;width:99px;height:35px">휴관일</div>
<div class="t cb" style="left:66.8px;top:613px;width:99px;height:34px">휴관일</div>
<div class="t d" style="left:17.7px;top:173px;width:25px;height:16px">수</div>
<div class="t d" style="left:44.8px;top:173px;width:21px;height:16px">1</div>
<div class="t d" style="left:17.7px;top:191px;width:25px;height:16px">목</div>
<div class="t d" style="left:44.8px;top:191px;width:21px;height:16px">2</div>
<div class="t d" style="left:17.7px;top:208px;width:25px;height:16px">금</div>
<div class="t d" style="left:44.8px;top:208px;width:21px;height:16px">3</div>
<div class="t d" style="left:17.7px;top:226px;width:25px;height:16px">토</div>
<div class="t d" style="left:44.8px;top:226px;width:21px;height:16px">4</div>
<div class="t d" style="left:17.7px;top:244px;width:25px;height:16px">일</div>
<div class="t d" style="left:44.8px;top:244px;width:21px;height:16px">5</div>
<div class="t d" style="left:17.7px;top:261px;width:25px;height:16px">월</div>
<div class="t d" style="left:44.8px;top:261px;width:21px;height:16px">6</div>
<div class="t d" style="left:17.7px;top:279px;width:25px;height:16px">화</div>
<div class="t d" style="left:44.8px;top:279px;width:21px;height:16px">7</div>
<div class="t d" style="left:17.7px;top:296px;width:25px;height:16px">수</div>
<div class="t d" style="left:44.8px;top:296px;width:21px;height:16px">8</div>
<div class="t d" style="left:17.7px;top:314px;width:25px;height:16px">목</div>
<div class="t d" style="left:44.8px;top:314px;width:21px;height:16px">9</div>
<div class="t d" style="left:17.7px;top:332px;width:25px;height:16px">금</div>
<div class="t d" style="left:44.5px;top:332px;width:21px;height:16px">10</div>
<div class="t d" style="left:17.7px;top:349px;width:25px;height:16px">토</div>
<div class="t d" style="left:44.5px;top:349px;width:21px;height:16px">11</div>
<div class="t d" style="left:17.7px;top:367px;width:25px;height:16px">일</div>
<div class="t d" style="left:44.5px;top:367px;width:21px;height:16px">12</div>
<div class="t d" style="left:17.7px;top:384px;width:25px;height:16px">월</div>
<div class="t d" style="left:44.5px;top:384px;width:21px;height:16px">13</div>
<div class="t d" style="left:17.7px;top:402px;width:25px;height:16px">화</div>
<div class="t d" style="left:44.5px;top:402px;width:21px;height:16px">14</div>
<div class="t d" style="left:17.7px;top:420px;width:25px;height:16px">수</div>
<div class="t d" style="left:44.5px;top:420px;width:21px;height:16px">15</div>
<div class="t d" style="left:17.7px;top:437px;width:25px;height:16px">목</div>
<div class="t d" style="left:44.5px;top:437px;width:21px;height:16px">16</div>
<div class="t dr" style="left:17.7px;top:455px;width:25px;height:16px">금</div>
<div class="t nr" style="left:44.5px;top:455px;width:21px;height:16px">17</div>
<div class="t d" style="left:17.7px;top:472px;width:25px;height:16px">토</div>
<div class="t d" style="left:44.5px;top:472px;width:21px;height:16px">18</div>
<div class="t d" style="left:17.7px;top:490px;width:25px;height:16px">일</div>
<div class="t d" style="left:44.5px;top:490px;width:21px;height:16px">19</div>
<div class="t d" style="left:17.7px;top:508px;width:25px;height:16px">월</div>
<div class="t d" style="left:44.5px;top:508px;width:21px;height:16px">20</div>
<div class="t d" style="left:17.7px;top:525px;width:25px;height:16px">화</div>
<div class="t d" style="left:44.5px;top:525px;width:21px;height:16px">21</div>
<div class="t d" style="left:17.7px;top:543px;width:25px;height:16px">수</div>
<div class="t d" style="left:44.5px;top:543px;width:21px;height:16px">22</div>
<div class="t d" style="left:17.7px;top:560px;width:25px;height:16px">목</div>
<div class="t d" style="left:44.5px;top:560px;width:21px;height:16px">23</div>
<div class="t d" style="left:17.7px;top:578px;width:25px;height:16px">금</div>
<div class="t d" style="left:44.5px;top:578px;width:21px;height:16px">24</div>
<div class="t d" style="left:17.7px;top:596px;width:25px;height:16px">토</div>
<div class="t d" style="left:44.5px;top:596px;width:21px;height:16px">25</div>
<div class="t d" style="left:17.7px;top:613px;width:25px;height:16px">일</div>
<div class="t d" style="left:44.5px;top:613px;width:21px;height:16px">26</div>
<div class="t d" style="left:17.7px;top:631px;width:25px;height:16px">월</div>
<div class="t d" style="left:44.5px;top:631px;width:21px;height:16px">27</div>
<div class="t d" style="left:17.7px;top:649px;width:25px;height:16px">화</div>
<div class="t d" style="left:44.5px;top:649px;width:21px;height:16px">28</div>
<div class="t d" style="left:17.7px;top:666px;width:25px;height:16px">수</div>
<div class="t d" style="left:44.5px;top:666px;width:21px;height:16px">29</div>
<div class="t d" style="left:17.7px;top:684px;width:25px;height:16px">목</div>
<div class="t d" style="left:44.5px;top:684px;width:21px;height:16px">30</div>
<div class="t d" style="left:17.7px;top:701px;width:25px;height:16px">금</div>
<div class="t d" style="left:44.5px;top:701px;width:21px;height:16px">31</div>
<div class="t mon" style="left:168.2px;top:137px;width:145px;height:15px">8월</div>
<div class="t hd" style="left:167.4px;top:155px;width:22px;height:15px">요일</div>
<div class="t hd" style="left:191.8px;top:155px;width:21px;height:15px">일</div>
<div class="t hd" style="left:213.8px;top:155px;width:99px;height:15px">내용</div>
<div class="t cb" style="left:213.8px;top:190px;width:99px;height:34px">휴관일</div>
<div class="t cb" style="left:213.8px;top:313px;width:99px;height:35px">휴관일</div>
<div class="t cr" style="left:213.8px;top:420px;width:99px;height:16px">광복절</div>
<div class="t cb" style="left:213.8px;top:437px;width:99px;height:16px">휴관일</div>
<div class="t cr" style="left:213.8px;top:455px;width:99px;height:16px">대체휴일</div>
<div class="t cb" style="left:213.8px;top:560px;width:99px;height:34px">휴관일</div>
<div class="t cb" style="left:213.8px;top:683px;width:99px;height:34px">휴관일</div>
<div class="t d" style="left:167.4px;top:173px;width:22px;height:16px">토</div>
<div class="t d" style="left:191.8px;top:173px;width:21px;height:16px">1</div>
<div class="t d" style="left:167.4px;top:191px;width:22px;height:16px">일</div>
<div class="t d" style="left:191.8px;top:191px;width:21px;height:16px">2</div>
<div class="t d" style="left:167.4px;top:208px;width:22px;height:16px">월</div>
<div class="t d" style="left:191.8px;top:208px;width:21px;height:16px">3</div>
<div class="t d" style="left:167.4px;top:226px;width:22px;height:16px">화</div>
<div class="t d" style="left:191.8px;top:226px;width:21px;height:16px">4</div>
<div class="t d" style="left:167.4px;top:244px;width:22px;height:16px">수</div>
<div class="t d" style="left:191.8px;top:244px;width:21px;height:16px">5</div>
<div class="t d" style="left:167.4px;top:261px;width:22px;height:16px">목</div>
<div class="t d" style="left:191.8px;top:261px;width:21px;height:16px">6</div>
<div class="t d" style="left:167.4px;top:279px;width:22px;height:16px">금</div>
<div class="t d" style="left:191.8px;top:279px;width:21px;height:16px">7</div>
<div class="t d" style="left:167.4px;top:296px;width:22px;height:16px">토</div>
<div class="t d" style="left:191.8px;top:296px;width:21px;height:16px">8</div>
<div class="t d" style="left:167.4px;top:314px;width:22px;height:16px">일</div>
<div class="t d" style="left:191.8px;top:314px;width:21px;height:16px">9</div>
<div class="t d" style="left:167.4px;top:332px;width:22px;height:16px">월</div>
<div class="t d" style="left:191.5px;top:332px;width:21px;height:16px">10</div>
<div class="t d" style="left:167.4px;top:349px;width:22px;height:16px">화</div>
<div class="t d" style="left:191.5px;top:349px;width:21px;height:16px">11</div>
<div class="t d" style="left:167.4px;top:367px;width:22px;height:16px">수</div>
<div class="t d" style="left:191.5px;top:367px;width:21px;height:16px">12</div>
<div class="t d" style="left:167.4px;top:384px;width:22px;height:16px">목</div>
<div class="t d" style="left:191.5px;top:384px;width:21px;height:16px">13</div>
<div class="t d" style="left:167.4px;top:402px;width:22px;height:16px">금</div>
<div class="t d" style="left:191.5px;top:402px;width:21px;height:16px">14</div>
<div class="t dr" style="left:167.4px;top:420px;width:22px;height:16px">토</div>
<div class="t nr" style="left:191.5px;top:420px;width:21px;height:16px">15</div>
<div class="t d" style="left:167.4px;top:437px;width:22px;height:16px">일</div>
<div class="t d" style="left:191.5px;top:437px;width:21px;height:16px">16</div>
<div class="t dr" style="left:167.4px;top:455px;width:22px;height:16px">월</div>
<div class="t nr" style="left:191.5px;top:455px;width:21px;height:16px">17</div>
<div class="t d" style="left:167.4px;top:472px;width:22px;height:16px">화</div>
<div class="t d" style="left:191.5px;top:472px;width:21px;height:16px">18</div>
<div class="t d" style="left:167.4px;top:490px;width:22px;height:16px">수</div>
<div class="t d" style="left:191.5px;top:490px;width:21px;height:16px">19</div>
<div class="t d" style="left:167.4px;top:508px;width:22px;height:16px">목</div>
<div class="t d" style="left:191.5px;top:508px;width:21px;height:16px">20</div>
<div class="t d" style="left:167.4px;top:525px;width:22px;height:16px">금</div>
<div class="t d" style="left:191.5px;top:525px;width:21px;height:16px">21</div>
<div class="t d" style="left:167.4px;top:543px;width:22px;height:16px">토</div>
<div class="t d" style="left:191.5px;top:543px;width:21px;height:16px">22</div>
<div class="t d" style="left:167.4px;top:560px;width:22px;height:16px">일</div>
<div class="t d" style="left:191.5px;top:560px;width:21px;height:16px">23</div>
<div class="t d" style="left:167.4px;top:578px;width:22px;height:16px">월</div>
<div class="t d" style="left:191.5px;top:578px;width:21px;height:16px">24</div>
<div class="t d" style="left:167.4px;top:596px;width:22px;height:16px">화</div>
<div class="t d" style="left:191.5px;top:596px;width:21px;height:16px">25</div>
<div class="t d" style="left:167.4px;top:613px;width:22px;height:16px">수</div>
<div class="t d" style="left:191.5px;top:613px;width:21px;height:16px">26</div>
<div class="t d" style="left:167.4px;top:631px;width:22px;height:16px">목</div>
<div class="t d" style="left:191.5px;top:631px;width:21px;height:16px">27</div>
<div class="t d" style="left:167.4px;top:649px;width:22px;height:16px">금</div>
<div class="t d" style="left:191.5px;top:649px;width:21px;height:16px">28</div>
<div class="t d" style="left:167.4px;top:666px;width:22px;height:16px">토</div>
<div class="t d" style="left:191.5px;top:666px;width:21px;height:16px">29</div>
<div class="t d" style="left:167.4px;top:684px;width:22px;height:16px">일</div>
<div class="t d" style="left:191.5px;top:684px;width:21px;height:16px">30</div>
<div class="t d" style="left:167.4px;top:701px;width:22px;height:16px">월</div>
<div class="t d" style="left:191.5px;top:701px;width:21px;height:16px">31</div>
<div class="t mon" style="left:316.2px;top:137px;width:144px;height:15px">9월</div>
<div class="t hd" style="left:315.1px;top:155px;width:21px;height:15px">요일</div>
<div class="t hd" style="left:338.8px;top:155px;width:21px;height:15px">일</div>
<div class="t hd" style="left:361.8px;top:155px;width:98px;height:15px">내용</div>
<div class="t cn" style="left:361.8px;top:172px;width:98px;height:88px">기획전시</div>
<div class="t cb" style="left:361.8px;top:261px;width:98px;height:34px">휴관일</div>
<div class="t cb" style="left:361.8px;top:384px;width:98px;height:34px">휴관일</div>
<div class="t cb" style="left:361.8px;top:507px;width:98px;height:34px">휴관일</div>
<div class="t cr" style="left:361.8px;top:577px;width:98px;height:52px">추석</div>
<div class="t cb" style="left:361.8px;top:630px;width:98px;height:35px">휴관일</div>
<div class="t d" style="left:315.1px;top:173px;width:21px;height:16px">화</div>
<div class="t d" style="left:338.8px;top:173px;width:21px;height:16px">1</div>
<div class="t d" style="left:315.1px;top:191px;width:21px;height:16px">수</div>
<div class="t d" style="left:338.8px;top:191px;width:21px;height:16px">2</div>
<div class="t d" style="left:315.1px;top:208px;width:21px;height:16px">목</div>
<div class="t d" style="left:338.8px;top:208px;width:21px;height:16px">3</div>
<div class="t d" style="left:315.1px;top:226px;width:21px;height:16px">금</div>
<div class="t d" style="left:338.8px;top:226px;width:21px;height:16px">4</div>
<div class="t d" style="left:315.1px;top:244px;width:21px;height:16px">토</div>
<div class="t d" style="left:338.8px;top:244px;width:21px;height:16px">5</div>
<div class="t d" style="left:315.1px;top:261px;width:21px;height:16px">일</div>
<div class="t d" style="left:338.8px;top:261px;width:21px;height:16px">6</div>
<div class="t d" style="left:315.1px;top:279px;width:21px;height:16px">월</div>
<div class="t d" style="left:338.8px;top:279px;width:21px;height:16px">7</div>
<div class="t d" style="left:315.1px;top:296px;width:21px;height:16px">화</div>
<div class="t d" style="left:338.8px;top:296px;width:21px;height:16px">8</div>
<div class="t d" style="left:315.1px;top:314px;width:21px;height:16px">수</div>
<div class="t d" style="left:338.8px;top:314px;width:21px;height:16px">9</div>
<div class="t d" style="left:315.1px;top:332px;width:21px;height:16px">목</div>
<div class="t d" style="left:338.5px;top:332px;width:21px;height:16px">10</div>
<div class="t d" style="left:315.1px;top:349px;width:21px;height:16px">금</div>
<div class="t d" style="left:338.5px;top:349px;width:21px;height:16px">11</div>
<div class="t d" style="left:315.1px;top:367px;width:21px;height:16px">토</div>
<div class="t d" style="left:338.5px;top:367px;width:21px;height:16px">12</div>
<div class="t d" style="left:315.1px;top:384px;width:21px;height:16px">일</div>
<div class="t d" style="left:338.5px;top:384px;width:21px;height:16px">13</div>
<div class="t d" style="left:315.1px;top:402px;width:21px;height:16px">월</div>
<div class="t d" style="left:338.5px;top:402px;width:21px;height:16px">14</div>
<div class="t d" style="left:315.1px;top:420px;width:21px;height:16px">화</div>
<div class="t d" style="left:338.5px;top:420px;width:21px;height:16px">15</div>
<div class="t d" style="left:315.1px;top:437px;width:21px;height:16px">수</div>
<div class="t d" style="left:338.5px;top:437px;width:21px;height:16px">16</div>
<div class="t d" style="left:315.1px;top:455px;width:21px;height:16px">목</div>
<div class="t d" style="left:338.5px;top:455px;width:21px;height:16px">17</div>
<div class="t d" style="left:315.1px;top:472px;width:21px;height:16px">금</div>
<div class="t d" style="left:338.5px;top:472px;width:21px;height:16px">18</div>
<div class="t d" style="left:315.1px;top:490px;width:21px;height:16px">토</div>
<div class="t d" style="left:338.5px;top:490px;width:21px;height:16px">19</div>
<div class="t d" style="left:315.1px;top:508px;width:21px;height:16px">일</div>
<div class="t d" style="left:338.5px;top:508px;width:21px;height:16px">20</div>
<div class="t d" style="left:315.1px;top:525px;width:21px;height:16px">월</div>
<div class="t d" style="left:338.5px;top:525px;width:21px;height:16px">21</div>
<div class="t d" style="left:315.1px;top:543px;width:21px;height:16px">화</div>
<div class="t d" style="left:338.5px;top:543px;width:21px;height:16px">22</div>
<div class="t d" style="left:315.1px;top:560px;width:21px;height:16px">수</div>
<div class="t d" style="left:338.5px;top:560px;width:21px;height:16px">23</div>
<div class="t dr" style="left:315.1px;top:578px;width:21px;height:16px">목</div>
<div class="t nr" style="left:338.5px;top:578px;width:21px;height:16px">24</div>
<div class="t dr" style="left:315.1px;top:596px;width:21px;height:16px">금</div>
<div class="t nr" style="left:338.5px;top:596px;width:21px;height:16px">25</div>
<div class="t dr" style="left:315.1px;top:613px;width:21px;height:16px">토</div>
<div class="t nr" style="left:338.5px;top:613px;width:21px;height:16px">26</div>
<div class="t d" style="left:315.1px;top:631px;width:21px;height:16px">일</div>
<div class="t d" style="left:338.5px;top:631px;width:21px;height:16px">27</div>
<div class="t d" style="left:315.1px;top:649px;width:21px;height:16px">월</div>
<div class="t d" style="left:338.5px;top:649px;width:21px;height:16px">28</div>
<div class="t d" style="left:315.1px;top:666px;width:21px;height:16px">화</div>
<div class="t d" style="left:338.5px;top:666px;width:21px;height:16px">29</div>
<div class="t d" style="left:315.1px;top:684px;width:21px;height:16px">수</div>
<div class="t d" style="left:338.5px;top:684px;width:21px;height:16px">30</div>
<div class="t mon" style="left:462.7px;top:137px;width:145px;height:15px">10월</div>
<div class="t hd" style="left:462px;top:155px;width:22px;height:15px">요일</div>
<div class="t hd" style="left:485.8px;top:155px;width:22px;height:15px">일</div>
<div class="t hd" style="left:509.4px;top:155px;width:97px;height:15px">내용</div>
<div class="t cr" style="left:509.4px;top:208px;width:97px;height:16px">개천절</div>
<div class="t cb" style="left:509.4px;top:226px;width:97px;height:16px">휴관일</div>
<div class="t cr" style="left:509.4px;top:244px;width:97px;height:16px">대체휴일</div>
<div class="t cr" style="left:509.4px;top:314px;width:97px;height:16px">한글날</div>
<div class="t cb" style="left:509.4px;top:349px;width:97px;height:34px">휴관일</div>
<div class="t cn" style="left:509.4px;top:384px;width:97px;height:87px">기획전시</div>
<div class="t cb" style="left:509.4px;top:472px;width:97px;height:34px">휴관일</div>
<div class="t cn" style="left:509.4px;top:507px;width:97px;height:52px">기획전시</div>
<div class="t cb" style="left:509.4px;top:595px;width:97px;height:34px">휴관일</div>
<div class="t d" style="left:462px;top:173px;width:22px;height:16px">목</div>
<div class="t d" style="left:485.8px;top:173px;width:22px;height:16px">1</div>
<div class="t d" style="left:462px;top:191px;width:22px;height:16px">금</div>
<div class="t d" style="left:485.8px;top:191px;width:22px;height:16px">2</div>
<div class="t dr" style="left:462px;top:208px;width:22px;height:16px">토</div>
<div class="t nr" style="left:485.8px;top:208px;width:22px;height:16px">3</div>
<div class="t d" style="left:462px;top:226px;width:22px;height:16px">일</div>
<div class="t d" style="left:485.8px;top:226px;width:22px;height:16px">4</div>
<div class="t rr" style="left:462px;top:244px;width:22px;height:16px">월</div>
<div class="t rr" style="left:485.8px;top:244px;width:22px;height:16px">5</div>
<div class="t d" style="left:462px;top:261px;width:22px;height:16px">화</div>
<div class="t d" style="left:485.8px;top:261px;width:22px;height:16px">6</div>
<div class="t d" style="left:462px;top:279px;width:22px;height:16px">수</div>
<div class="t d" style="left:485.8px;top:279px;width:22px;height:16px">7</div>
<div class="t d" style="left:462px;top:296px;width:22px;height:16px">목</div>
<div class="t d" style="left:485.8px;top:296px;width:22px;height:16px">8</div>
<div class="t dr" style="left:462px;top:314px;width:22px;height:16px">금</div>
<div class="t nr" style="left:485.8px;top:314px;width:22px;height:16px">9</div>
<div class="t d" style="left:462px;top:332px;width:22px;height:16px">토</div>
<div class="t d" style="left:485.5px;top:332px;width:22px;height:16px">10</div>
<div class="t d" style="left:462px;top:349px;width:22px;height:16px">일</div>
<div class="t d" style="left:485.5px;top:349px;width:22px;height:16px">11</div>
<div class="t d" style="left:462px;top:367px;width:22px;height:16px">월</div>
<div class="t d" style="left:485.5px;top:367px;width:22px;height:16px">12</div>
<div class="t d" style="left:462px;top:384px;width:22px;height:16px">화</div>
<div class="t d" style="left:485.5px;top:384px;width:22px;height:16px">13</div>
<div class="t d" style="left:462px;top:402px;width:22px;height:16px">수</div>
<div class="t d" style="left:485.5px;top:402px;width:22px;height:16px">14</div>
<div class="t d" style="left:462px;top:420px;width:22px;height:16px">목</div>
<div class="t d" style="left:485.5px;top:420px;width:22px;height:16px">15</div>
<div class="t d" style="left:462px;top:437px;width:22px;height:16px">금</div>
<div class="t d" style="left:485.5px;top:437px;width:22px;height:16px">16</div>
<div class="t d" style="left:462px;top:455px;width:22px;height:16px">토</div>
<div class="t d" style="left:485.5px;top:455px;width:22px;height:16px">17</div>
<div class="t d" style="left:462px;top:472px;width:22px;height:16px">일</div>
<div class="t d" style="left:485.5px;top:472px;width:22px;height:16px">18</div>
<div class="t d" style="left:462px;top:490px;width:22px;height:16px">월</div>
<div class="t d" style="left:485.5px;top:490px;width:22px;height:16px">19</div>
<div class="t d" style="left:462px;top:508px;width:22px;height:16px">화</div>
<div class="t d" style="left:485.5px;top:508px;width:22px;height:16px">20</div>
<div class="t d" style="left:462px;top:525px;width:22px;height:16px">수</div>
<div class="t d" style="left:485.5px;top:525px;width:22px;height:16px">21</div>
<div class="t d" style="left:462px;top:543px;width:22px;height:16px">목</div>
<div class="t d" style="left:485.5px;top:543px;width:22px;height:16px">22</div>
<div class="t d" style="left:462px;top:560px;width:22px;height:16px">금</div>
<div class="t d" style="left:485.5px;top:560px;width:22px;height:16px">23</div>
<div class="t d" style="left:462px;top:578px;width:22px;height:16px">토</div>
<div class="t d" style="left:485.5px;top:578px;width:22px;height:16px">24</div>
<div class="t d" style="left:462px;top:596px;width:22px;height:16px">일</div>
<div class="t d" style="left:485.5px;top:596px;width:22px;height:16px">25</div>
<div class="t d" style="left:462px;top:613px;width:22px;height:16px">월</div>
<div class="t d" style="left:485.5px;top:613px;width:22px;height:16px">26</div>
<div class="t d" style="left:462px;top:631px;width:22px;height:16px">화</div>
<div class="t d" style="left:485.5px;top:631px;width:22px;height:16px">27</div>
<div class="t d" style="left:462px;top:649px;width:22px;height:16px">수</div>
<div class="t d" style="left:485.5px;top:649px;width:22px;height:16px">28</div>
<div class="t d" style="left:462px;top:666px;width:22px;height:16px">목</div>
<div class="t d" style="left:485.5px;top:666px;width:22px;height:16px">29</div>
<div class="t d" style="left:462px;top:684px;width:22px;height:16px">금</div>
<div class="t d" style="left:485.5px;top:684px;width:22px;height:16px">30</div>
<div class="t d" style="left:462px;top:701px;width:22px;height:16px">토</div>
<div class="t d" style="left:485.5px;top:701px;width:22px;height:16px">31</div>
<div class="t mon" style="left:609.7px;top:137px;width:146px;height:15px">11월</div>
<div class="t hd" style="left:609.1px;top:155px;width:22px;height:15px">요일</div>
<div class="t hd" style="left:632.8px;top:155px;width:22px;height:15px">일</div>
<div class="t hd" style="left:656.8px;top:155px;width:98px;height:15px">내용</div>
<div class="t cb" style="left:656.8px;top:172px;width:98px;height:35px">휴관일</div>
<div class="t cb" style="left:656.8px;top:296px;width:98px;height:34px">휴관일</div>
<div class="t cn" style="left:656.8px;top:402px;width:98px;height:16px">안전점검</div>
<div class="t cb" style="left:656.8px;top:419px;width:98px;height:34px">휴관일</div>
<div class="t cb" style="left:656.8px;top:542px;width:98px;height:34px">휴관일</div>
<div class="t cb" style="left:656.8px;top:666px;width:98px;height:34px">휴관일</div>
<div class="t d" style="left:609.1px;top:173px;width:22px;height:16px">일</div>
<div class="t d" style="left:632.8px;top:173px;width:22px;height:16px">1</div>
<div class="t d" style="left:609.1px;top:191px;width:22px;height:16px">월</div>
<div class="t d" style="left:632.8px;top:191px;width:22px;height:16px">2</div>
<div class="t d" style="left:609.1px;top:208px;width:22px;height:16px">화</div>
<div class="t d" style="left:632.8px;top:208px;width:22px;height:16px">3</div>
<div class="t d" style="left:609.1px;top:226px;width:22px;height:16px">수</div>
<div class="t d" style="left:632.8px;top:226px;width:22px;height:16px">4</div>
<div class="t d" style="left:609.1px;top:244px;width:22px;height:16px">목</div>
<div class="t d" style="left:632.8px;top:244px;width:22px;height:16px">5</div>
<div class="t d" style="left:609.1px;top:261px;width:22px;height:16px">금</div>
<div class="t d" style="left:632.8px;top:261px;width:22px;height:16px">6</div>
<div class="t d" style="left:609.1px;top:279px;width:22px;height:16px">토</div>
<div class="t d" style="left:632.8px;top:279px;width:22px;height:16px">7</div>
<div class="t d" style="left:609.1px;top:296px;width:22px;height:16px">일</div>
<div class="t d" style="left:632.8px;top:296px;width:22px;height:16px">8</div>
<div class="t d" style="left:609.1px;top:314px;width:22px;height:16px">월</div>
<div class="t d" style="left:632.8px;top:314px;width:22px;height:16px">9</div>
<div class="t d" style="left:609.1px;top:332px;width:22px;height:16px">화</div>
<div class="t d" style="left:632.5px;top:332px;width:22px;height:16px">10</div>
<div class="t d" style="left:609.1px;top:349px;width:22px;height:16px">수</div>
<div class="t d" style="left:632.5px;top:349px;width:22px;height:16px">11</div>
<div class="t d" style="left:609.1px;top:367px;width:22px;height:16px">목</div>
<div class="t d" style="left:632.5px;top:367px;width:22px;height:16px">12</div>
<div class="t d" style="left:609.1px;top:384px;width:22px;height:16px">금</div>
<div class="t d" style="left:632.5px;top:384px;width:22px;height:16px">13</div>
<div class="t d" style="left:609.1px;top:402px;width:22px;height:16px">토</div>
<div class="t d" style="left:632.5px;top:402px;width:22px;height:16px">14</div>
<div class="t d" style="left:609.1px;top:420px;width:22px;height:16px">일</div>
<div class="t d" style="left:632.5px;top:420px;width:22px;height:16px">15</div>
<div class="t d" style="left:609.1px;top:437px;width:22px;height:16px">월</div>
<div class="t d" style="left:632.5px;top:437px;width:22px;height:16px">16</div>
<div class="t d" style="left:609.1px;top:455px;width:22px;height:16px">화</div>
<div class="t d" style="left:632.5px;top:455px;width:22px;height:16px">17</div>
<div class="t d" style="left:609.1px;top:472px;width:22px;height:16px">수</div>
<div class="t d" style="left:632.5px;top:472px;width:22px;height:16px">18</div>
<div class="t d" style="left:609.1px;top:490px;width:22px;height:16px">목</div>
<div class="t d" style="left:632.5px;top:490px;width:22px;height:16px">19</div>
<div class="t d" style="left:609.1px;top:508px;width:22px;height:16px">금</div>
<div class="t d" style="left:632.5px;top:508px;width:22px;height:16px">20</div>
<div class="t d" style="left:609.1px;top:525px;width:22px;height:16px">토</div>
<div class="t d" style="left:632.5px;top:525px;width:22px;height:16px">21</div>
<div class="t d" style="left:609.1px;top:543px;width:22px;height:16px">일</div>
<div class="t d" style="left:632.5px;top:543px;width:22px;height:16px">22</div>
<div class="t d" style="left:609.1px;top:560px;width:22px;height:16px">월</div>
<div class="t d" style="left:632.5px;top:560px;width:22px;height:16px">23</div>
<div class="t d" style="left:609.1px;top:578px;width:22px;height:16px">화</div>
<div class="t d" style="left:632.5px;top:578px;width:22px;height:16px">24</div>
<div class="t d" style="left:609.1px;top:596px;width:22px;height:16px">수</div>
<div class="t d" style="left:632.5px;top:596px;width:22px;height:16px">25</div>
<div class="t d" style="left:609.1px;top:613px;width:22px;height:16px">목</div>
<div class="t d" style="left:632.5px;top:613px;width:22px;height:16px">26</div>
<div class="t d" style="left:609.1px;top:631px;width:22px;height:16px">금</div>
<div class="t d" style="left:632.5px;top:631px;width:22px;height:16px">27</div>
<div class="t d" style="left:609.1px;top:649px;width:22px;height:16px">토</div>
<div class="t d" style="left:632.5px;top:649px;width:22px;height:16px">28</div>
<div class="t d" style="left:609.1px;top:666px;width:22px;height:16px">일</div>
<div class="t d" style="left:632.5px;top:666px;width:22px;height:16px">29</div>
<div class="t d" style="left:609.1px;top:684px;width:22px;height:16px">월</div>
<div class="t d" style="left:632.5px;top:684px;width:22px;height:16px">30</div>
<div class="t mon" style="left:757.7px;top:137px;width:145px;height:15px">12월</div>
<div class="t hd" style="left:756.8px;top:155px;width:22px;height:15px">요일</div>
<div class="t hd" style="left:780.8px;top:155px;width:21px;height:15px">일</div>
<div class="t hd" style="left:803.8px;top:155px;width:98px;height:15px">내용</div>
<div class="t cb" style="left:803.8px;top:261px;width:98px;height:34px">휴관일</div>
<div class="t cb" style="left:803.8px;top:384px;width:98px;height:34px">휴관일</div>
<div class="t cb" style="left:803.8px;top:507px;width:98px;height:34px">휴관일</div>
<div class="t cr" style="left:803.8px;top:596px;width:98px;height:16px">성탄절</div>
<div class="t cb" style="left:803.8px;top:630px;width:98px;height:35px">휴관일</div>
<div class="t d" style="left:756.8px;top:173px;width:22px;height:16px">화</div>
<div class="t d" style="left:780.8px;top:173px;width:21px;height:16px">1</div>
<div class="t d" style="left:756.8px;top:191px;width:22px;height:16px">수</div>
<div class="t d" style="left:780.8px;top:191px;width:21px;height:16px">2</div>
<div class="t d" style="left:756.8px;top:208px;width:22px;height:16px">목</div>
<div class="t d" style="left:780.8px;top:208px;width:21px;height:16px">3</div>
<div class="t d" style="left:756.8px;top:226px;width:22px;height:16px">금</div>
<div class="t d" style="left:780.8px;top:226px;width:21px;height:16px">4</div>
<div class="t d" style="left:756.8px;top:244px;width:22px;height:16px">토</div>
<div class="t d" style="left:780.8px;top:244px;width:21px;height:16px">5</div>
<div class="t d" style="left:756.8px;top:261px;width:22px;height:16px">일</div>
<div class="t d" style="left:780.8px;top:261px;width:21px;height:16px">6</div>
<div class="t d" style="left:756.8px;top:279px;width:22px;height:16px">월</div>
<div class="t d" style="left:780.8px;top:279px;width:21px;height:16px">7</div>
<div class="t d" style="left:756.8px;top:296px;width:22px;height:16px">화</div>
<div class="t d" style="left:780.8px;top:296px;width:21px;height:16px">8</div>
<div class="t d" style="left:756.8px;top:314px;width:22px;height:16px">수</div>
<div class="t d" style="left:780.8px;top:314px;width:21px;height:16px">9</div>
<div class="t d" style="left:756.8px;top:332px;width:22px;height:16px">목</div>
<div class="t d" style="left:780.5px;top:332px;width:21px;height:16px">10</div>
<div class="t d" style="left:756.8px;top:349px;width:22px;height:16px">금</div>
<div class="t d" style="left:780.5px;top:349px;width:21px;height:16px">11</div>
<div class="t d" style="left:756.8px;top:367px;width:22px;height:16px">토</div>
<div class="t d" style="left:780.5px;top:367px;width:21px;height:16px">12</div>
<div class="t d" style="left:756.8px;top:384px;width:22px;height:16px">일</div>
<div class="t d" style="left:780.5px;top:384px;width:21px;height:16px">13</div>
<div class="t d" style="left:756.8px;top:402px;width:22px;height:16px">월</div>
<div class="t d" style="left:780.5px;top:402px;width:21px;height:16px">14</div>
<div class="t d" style="left:756.8px;top:420px;width:22px;height:16px">화</div>
<div class="t d" style="left:780.5px;top:420px;width:21px;height:16px">15</div>
<div class="t d" style="left:756.8px;top:437px;width:22px;height:16px">수</div>
<div class="t d" style="left:780.5px;top:437px;width:21px;height:16px">16</div>
<div class="t d" style="left:756.8px;top:455px;width:22px;height:16px">목</div>
<div class="t d" style="left:780.5px;top:455px;width:21px;height:16px">17</div>
<div class="t d" style="left:756.8px;top:472px;width:22px;height:16px">금</div>
<div class="t d" style="left:780.5px;top:472px;width:21px;height:16px">18</div>
<div class="t d" style="left:756.8px;top:490px;width:22px;height:16px">토</div>
<div class="t d" style="left:780.5px;top:490px;width:21px;height:16px">19</div>
<div class="t d" style="left:756.8px;top:508px;width:22px;height:16px">일</div>
<div class="t d" style="left:780.5px;top:508px;width:21px;height:16px">20</div>
<div class="t d" style="left:756.8px;top:525px;width:22px;height:16px">월</div>
<div class="t d" style="left:780.5px;top:525px;width:21px;height:16px">21</div>
<div class="t d" style="left:756.8px;top:543px;width:22px;height:16px">화</div>
<div class="t d" style="left:780.5px;top:543px;width:21px;height:16px">22</div>
<div class="t d" style="left:756.8px;top:560px;width:22px;height:16px">수</div>
<div class="t d" style="left:780.5px;top:560px;width:21px;height:16px">23</div>
<div class="t d" style="left:756.8px;top:578px;width:22px;height:16px">목</div>
<div class="t d" style="left:780.5px;top:578px;width:21px;height:16px">24</div>
<div class="t dr" style="left:756.8px;top:596px;width:22px;height:16px">금</div>
<div class="t nr" style="left:780.5px;top:596px;width:21px;height:16px">25</div>
<div class="t d" style="left:756.8px;top:613px;width:22px;height:16px">토</div>
<div class="t d" style="left:780.5px;top:613px;width:21px;height:16px">26</div>
<div class="t d" style="left:756.8px;top:631px;width:22px;height:16px">일</div>
<div class="t d" style="left:780.5px;top:631px;width:21px;height:16px">27</div>
<div class="t d" style="left:756.8px;top:649px;width:22px;height:16px">월</div>
<div class="t d" style="left:780.5px;top:649px;width:21px;height:16px">28</div>
<div class="t d" style="left:756.8px;top:666px;width:22px;height:16px">화</div>
<div class="t d" style="left:780.5px;top:666px;width:21px;height:16px">29</div>
<div class="t d" style="left:756.8px;top:684px;width:22px;height:16px">수</div>
<div class="t d" style="left:780.5px;top:684px;width:21px;height:16px">30</div>
<div class="t d" style="left:756.8px;top:701px;width:22px;height:16px">목</div>
<div class="t d" style="left:780.5px;top:701px;width:21px;height:16px">31</div>
</body></html>
